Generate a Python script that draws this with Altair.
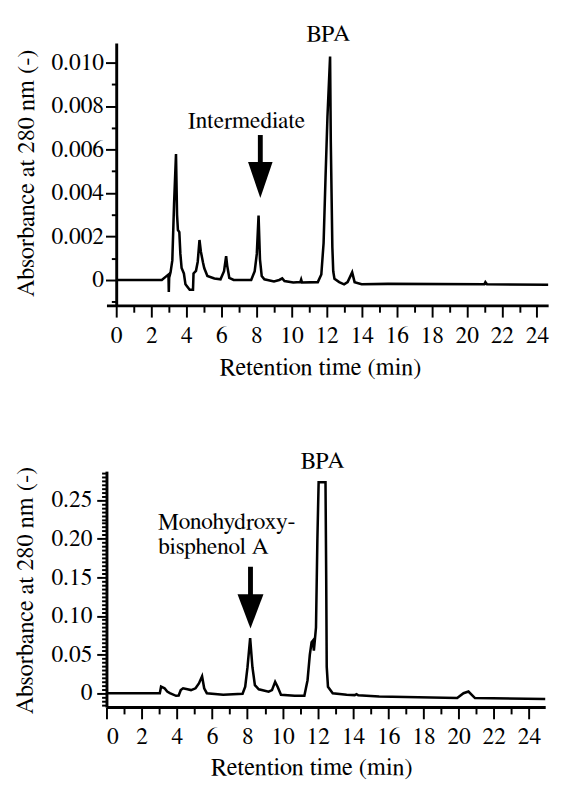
import altair as alt
import pandas as pd

# ---------------- data ----------------
top_time = [0.0, 2.6, 2.9, 2.98, 3.0, 3.02, 3.1, 3.2, 3.3, 3.41, 3.47, 3.52, 3.6, 3.66, 3.73, 3.86,
            3.95, 4.19, 4.38, 4.41, 4.55, 4.65, 4.75, 4.83, 4.95, 5.02, 5.2, 5.6, 5.95, 6.15, 6.27,
            6.33, 6.45, 6.7, 7.7, 7.9, 8.02, 8.12, 8.2, 8.3, 8.45, 9.0, 9.3, 9.47, 9.6, 10.1, 10.5,
            10.55, 10.6, 11.5, 11.7, 11.83, 11.94, 12.05, 12.2, 12.24, 12.33, 12.38, 12.45, 12.72,
            13.0, 13.2, 13.46, 13.6, 14.0, 15.5, 21.0, 21.06, 21.15, 24.64]
top_abs = [0, 0, 0.0002, 0.00025, -0.00055, 0.0001, 0.00035, 0.0009, 0.0035, 0.0058, 0.003, 0.0023,
           0.0022, 0.0012, 0.00055, 0.0003, -0.0002, -0.00045, -0.00045, 0.0003, 0.00042, 0.00084,
           0.00184, 0.0013, 0.0008, 0.00055, 0.00018, 0.00007, 0.00003, 0.0004, 0.0011, 0.00066,
           0.0001, 0, 0, 0.0004, 0.0012, 0.00296, 0.00095, 0.00018, 0.00003, -0.00007, 0, 0.00007,
           -0.00005, -0.00012, -0.0001, 0.00002, -0.00012, -0.0001, 0.00025, 0.0017, 0.0047, 0.0075,
           0.01028, 0.0064, 0.0015, 0.0004, 0.00005, -0.0001, -0.0002, -0.0001, 0.00035, -0.0001,
           -0.0002, -0.00018, -0.0002, -0.0001, -0.0002, -0.00022]

bot_time = [0.0, 3.03, 3.1, 3.3, 3.45, 3.6, 3.95, 4.1, 4.22, 4.35, 4.6, 4.8, 5.06, 5.25, 5.43, 5.55,
            5.7, 6.63, 7.73, 7.88, 8.01, 8.16, 8.29, 8.43, 8.65, 9.21, 9.4, 9.58, 9.72, 9.91, 10.69,
            11.24, 11.42, 11.55, 11.65, 11.72, 11.78, 11.84, 11.9, 11.98, 12.05, 12.44, 12.48, 12.51,
            12.58, 12.85, 13.64, 14.1, 14.2, 14.3, 15.49, 19.92, 20.28, 20.56, 20.93, 24.92]
bot_abs = [0, 0, 0.0084, 0.0063, 0.002, 0, -0.0034, -0.003, 0.0042, 0.0063, 0.005, 0.004, 0.0063,
           0.0126, 0.0218, 0.0063, 0, -0.0021, -0.0008, 0.0084, 0.0336, 0.0714, 0.0336, 0.0105,
           0.005, 0.002, 0.004, 0.0147, 0.0084, -0.002, -0.0034, -0.0034, 0.0168, 0.05, 0.066,
           0.068, 0.055, 0.07, 0.085, 0.2, 0.273, 0.273, 0.15, 0.034, 0.0084, 0, -0.0021, -0.0025,
           -0.0013, -0.0028, -0.0042, -0.0063, 0.0, 0.0021, -0.0063, -0.0076]

x_major = [0, 2, 4, 6, 8, 10, 12, 14, 16, 18, 20, 22, 24]
x_minor = [1, 3, 5, 7, 9, 11, 13, 15, 17, 19, 21, 23]
top_y_major = [0, 0.002, 0.004, 0.006, 0.008, 0.010]
top_y_minor = [-0.001, 0.001, 0.003, 0.005, 0.007, 0.009]
bot_y_major = [0, 0.05, 0.10, 0.15, 0.20, 0.25]
bot_y_minor = [-0.015, -0.01, -0.005, 0.005, 0.01, 0.015, 0.02, 0.025, 0.03, 0.035, 0.04, 0.045,
               0.055, 0.06, 0.065, 0.07, 0.075, 0.08, 0.085, 0.09, 0.095, 0.105, 0.11, 0.115, 0.12,
               0.125, 0.13, 0.135, 0.14, 0.145, 0.155, 0.16, 0.165, 0.17, 0.175, 0.18, 0.185, 0.19,
               0.195, 0.205, 0.21, 0.215, 0.22, 0.225, 0.23, 0.235, 0.24, 0.245, 0.255, 0.26, 0.265,
               0.27, 0.275, 0.28, 0.285]

top_center_labels = ["BPA", "Intermediate"]
top_center_x = [12.1, 7.44]
top_center_y = [0.01099, 0.0070]
top_arrow_x = [8.22]
top_arrow_top = [0.00667]
top_arrow_head = [0.0046]

bot_center_labels = ["BPA"]
bot_center_x = [12.27]
bot_center_y = [0.292]
bot_left_labels = ["Monohydroxy-", "bisphenol A"]
bot_left_x = [2.93, 2.93]
bot_left_y = [0.212, 0.180]
bot_arrow_x = [8.18]
bot_arrow_top = [0.1637]
bot_arrow_head = [0.106]

FONT = "FreeSerif"
XTITLE = "Retention time (min)"
YTITLE = "Absorbance at 280 nm (-)"


def panel(time, absb, xdom, ydom, w, h, ymaj, ymin_, yfmt, yoff, ytick, ylabpad, xlabpad,
          xt_x, xt_y, yt_x, yt_y, center_txt, left_txt, arrow, head_shape, head_size):
    df = pd.DataFrame({"t": time, "a": absb, "i": list(range(len(time)))})
    xs = alt.Scale(domain=xdom, nice=False, zero=False)
    ys = alt.Scale(domain=ydom, nice=False, zero=False)
    expr = "datum.value == 0 ? '0' : format(datum.value, '%s')" % yfmt

    line = alt.Chart(df).mark_line(color="black", strokeWidth=2.6).encode(
        x=alt.X("t:Q", scale=xs, axis=alt.Axis(
            values=x_major, tickSize=12, labelPadding=xlabpad, orient="bottom",
            title=XTITLE, titleX=xt_x, titleY=xt_y, titleAlign="center",
            titleBaseline="alphabetic")),
        y=alt.Y("a:Q", scale=ys, axis=alt.Axis(
            values=ymaj, tickSize=ytick, labelPadding=ylabpad, labelExpr=expr,
            orient="left", offset=yoff, title=YTITLE, titleX=yt_x, titleY=yt_y,
            titleAlign="center", titleBaseline="alphabetic", titleAngle=270)),
        order="i:Q",
    )
    minor = alt.Chart(df).mark_line(opacity=0).encode(
        x=alt.X("t:Q", scale=xs, axis=alt.Axis(
            values=x_minor, tickSize=7, labels=False, domain=False, orient="bottom",
            title=None)),
        y=alt.Y("a:Q", scale=ys, axis=alt.Axis(
            values=ymin_, tickSize=5, labels=False, domain=False, orient="left",
            offset=yoff, title=None)),
        order="i:Q",
    )
    layers = [line, minor]

    cdf = pd.DataFrame({"x": center_txt[1], "y": center_txt[2], "label": center_txt[0]})
    layers.append(alt.Chart(cdf).mark_text(
        font=FONT, fontSize=24, align="center", baseline="alphabetic", color="black").encode(
        x=alt.X("x:Q", scale=xs, axis=None), y=alt.Y("y:Q", scale=ys, axis=None),
        text="label:N"))
    if left_txt is not None:
        ldf = pd.DataFrame({"x": left_txt[1], "y": left_txt[2], "label": left_txt[0]})
        layers.append(alt.Chart(ldf).mark_text(
            font=FONT, fontSize=24, align="left", baseline="alphabetic", color="black").encode(
            x=alt.X("x:Q", scale=xs, axis=None), y=alt.Y("y:Q", scale=ys, axis=None),
            text="label:N"))

    adf = pd.DataFrame({"x": arrow[0], "top": arrow[1], "head": arrow[2]})
    layers.append(alt.Chart(adf).mark_rule(color="black", strokeWidth=5).encode(
        x=alt.X("x:Q", scale=xs, axis=None), y=alt.Y("top:Q", scale=ys, axis=None),
        y2="head:Q"))
    layers.append(alt.Chart(adf).mark_point(
        shape=head_shape, size=head_size, filled=True, color="black", opacity=1,
        strokeWidth=0).encode(
        x=alt.X("x:Q", scale=xs, axis=None), y=alt.Y("head:Q", scale=ys, axis=None)))

    return alt.layer(*layers).resolve_axis(x="independent", y="independent").properties(
        width=w, height=h)


top = panel(top_time, top_abs, [-0.556, 24.64], [-0.00117, 0.0109], 453, 269,
            top_y_major, top_y_minor, ".3f", -10, 11, 2, 7,
            219, 71, -85, 133,
            (top_center_labels, top_center_x, top_center_y), None,
            (top_arrow_x, top_arrow_top, top_arrow_head),
            "M -0.68 -1 L 0.68 -1 L 0 1 Z", 37 * 37)

bottom = panel(bot_time, bot_abs, [0, 24.92], [-0.018, 0.2875], 450, 242,
               bot_y_major, bot_y_minor, ".2f", 0, 10, 5, 6,
               210, 69, -76, 122,
               (bot_center_labels, bot_center_x, bot_center_y),
               (bot_left_labels, bot_left_x, bot_left_y),
               (bot_arrow_x, bot_arrow_top, bot_arrow_head),
               "M -0.76 -1 L 0.76 -1 L 0 1 Z", 35 * 35)

chart = alt.vconcat(top, bottom, spacing=71).properties(
    padding={"left": 4, "top": 4, "right": 0, "bottom": 0},
    background="white",
).configure_view(stroke=None).configure_axis(
    labelFont=FONT, labelFontSize=24, labelColor="black",
    titleFont=FONT, titleFontSize=25, titleFontWeight="normal", titleColor="black",
    domainColor="black", domainWidth=3, tickColor="black", tickWidth=2, grid=False,
)

chart.save("out.html", embed_options={"renderer": "svg", "actions": False})
